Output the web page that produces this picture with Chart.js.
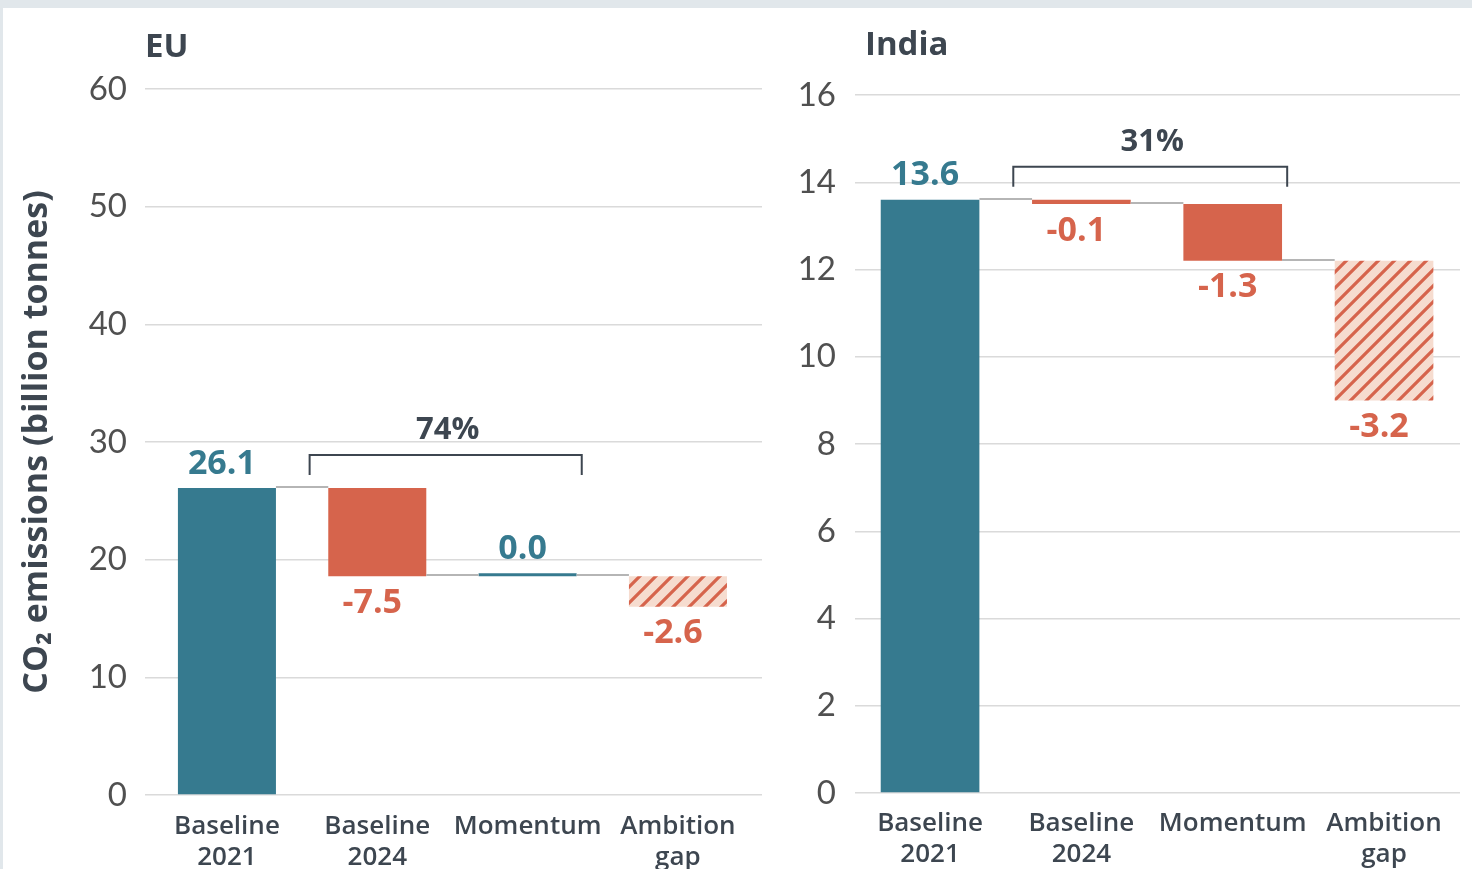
<!DOCTYPE html>
<html>
<head>
<meta charset="utf-8">
<script src="https://cdn.jsdelivr.net/npm/chart.js@4"></script>
<style>
  html, body { margin: 0; padding: 0; background: #fff; }
  body { width: 1472px; height: 869px; position: relative; overflow: hidden; }
  .strip-top  { position: absolute; left: 0; top: 0; width: 1472px; height: 8px; background: #e1e7eb; }
  .strip-left { position: absolute; left: 0; top: 0; width: 3px; height: 869px; background: #e1e7eb; }
  #eu    { position: absolute; left: 0; top: 0; }
  #india { position: absolute; left: 775px; top: 0; }
</style>
</head>
<body>
<canvas id="eu" width="775" height="869"></canvas>
<canvas id="india" width="697" height="869"></canvas>
<div class="strip-top"></div>
<div class="strip-left"></div>
<script>
// ── Data ──
const categories   = [['Baseline', '2021'], ['Baseline', '2024'], 'Momentum', ['Ambition', 'gap']]
const euChanges    = [26.1, -7.5, 0.0, -2.6]
const indiaChanges = [13.6, -0.1, -1.3, -3.2]
const euTicks      = [0, 10, 20, 30, 40, 50, 60]
const indiaTicks   = [0, 2, 4, 6, 8, 10, 12, 14, 16]
const euShare      = '74%'
const indiaShare   = '31%'

// ── Styles ──
const TEAL  = '#367a8f'
const RED   = '#d6644c'
const PEACH = '#f6dccf'
const INK   = '#3d4650'
const GRID  = '#dadada'
const LINK  = '#b5b5b5'

function hatch() {
  const c = document.createElement('canvas')
  c.width = 16; c.height = 16
  const g = c.getContext('2d')
  g.fillStyle = PEACH
  g.fillRect(0, 0, 16, 16)
  g.strokeStyle = RED
  g.lineWidth = 3.2
  g.beginPath()
  g.moveTo(-4, 20); g.lineTo(20, -4)
  g.moveTo(-4, 4);  g.lineTo(4, -4)
  g.moveTo(12, 20); g.lineTo(20, 12)
  g.stroke()
  return g.createPattern(c, 'repeat')
}

// floating [start, end] pairs for the waterfall
function steps(changes) {
  let level = 0
  return changes.map((v, i) => {
    const start = i === 0 ? 0 : level
    level = start + v
    return [start, level]
  })
}

function extras(changes, title, titleX, titleY, share) {
  return {
    id: 'extras',
    afterDatasetsDraw(chart) {
      const { ctx, chartArea, scales: { x, y } } = chart
      const bars = chart.getDatasetMeta(0).data
      const levels = steps(changes)
      ctx.save()

      // connectors
      ctx.strokeStyle = LINK
      ctx.lineWidth = 2
      for (let i = 0; i < bars.length - 1; i++) {
        const py = Math.round(y.getPixelForValue(levels[i][1])) - 1
        ctx.beginPath()
        ctx.moveTo(bars[i].x + bars[i].width / 2, py)
        ctx.lineTo(bars[i + 1].x - bars[i + 1].width / 2, py)
        ctx.stroke()
      }

      // value labels
      ctx.font = '700 34px "Open Sans"'
      ctx.textAlign = 'center'
      ctx.textBaseline = 'middle'
      bars.forEach((bar, i) => {
        const v = changes[i]
        const top = Math.min(bar.y, bar.base)
        const bottom = Math.max(bar.y, bar.base)
        ctx.fillStyle = v < 0 ? RED : TEAL
        ctx.fillText(v.toFixed(1), bar.x - 5, v < 0 ? bottom + 27 : top - 24)
      })

      // bracket + share
      const cw = x.getPixelForValue(1) - x.getPixelForValue(0)
      const bl = x.getPixelForValue(1) - 0.45 * cw
      const br = x.getPixelForValue(2) + 0.36 * cw
      const bt = Math.min(bars[0].y, bars[0].base) - 33
      ctx.strokeStyle = INK
      ctx.lineWidth = 2
      ctx.beginPath()
      ctx.moveTo(bl, bt + 20)
      ctx.lineTo(bl, bt)
      ctx.lineTo(br, bt)
      ctx.lineTo(br, bt + 20)
      ctx.stroke()
      ctx.fillStyle = INK
      ctx.font = '700 31px "Open Sans"'
      ctx.fillText(share, (bl + br) / 2 + 2, bt - 25)

      // panel title
      ctx.font = '700 33px "Open Sans"'
      ctx.textAlign = 'left'
      ctx.fillText(title, chartArea.left + titleX, titleY)
      ctx.restore()
    }
  }
}

function makeChart(id, changes, ticks, opts) {
  const n = changes.length
  return new Chart(document.getElementById(id), {
    type: 'bar',
    data: {
      datasets: [{
        data: steps(changes).map((v, i) => ({ x: i, y: v })),
        backgroundColor: changes.map((v, i) => i === n - 1 ? hatch() : v < 0 ? RED : TEAL),
        borderWidth: 0,
        barPercentage: 0.652,
        categoryPercentage: 1,
        minBarLength: 3,
      }]
    },
    options: {
      responsive: false,
      animation: false,
      layout: { padding: { top: opts.top, right: opts.right, left: 0, bottom: 0 } },
      plugins: { legend: { display: false }, tooltip: { enabled: false }, title: { display: false } },
      scales: {
        x: {
          type: 'linear',
          offset: false,
          min: opts.xMin,
          max: opts.xMax,
          afterBuildTicks: s => { s.ticks = categories.map((c, i) => ({ value: i })) },
          grid: { display: false, offset: false },
          border: { display: false },
          ticks: {
            callback: v => categories[v],
            color: INK,
            font: { family: '"Open Sans"', size: 26, weight: '600' },
            padding: opts.xPad,
            maxRotation: 0,
            autoSkip: false,
          },
          afterFit: s => { s.height = opts.xHeight },
        },
        y: {
          min: ticks[0],
          max: ticks[ticks.length - 1],
          afterBuildTicks: s => { s.ticks = ticks.map(v => ({ value: v })) },
          grid: { color: GRID, lineWidth: 1.5, drawTicks: false },
          border: { display: false },
          ticks: {
            color: '#505050',
            font: { family: 'Lato', size: 33, weight: '400' },
            padding: opts.yPad,
          },
          title: {
            display: !!opts.yTitle,
            text: opts.yTitle || '',
            color: INK,
            font: { family: '"Open Sans"', size: 34, weight: '700' },
            padding: { top: 17, bottom: 0 },
          },
          afterFit: s => { s.width = opts.yWidth },
        }
      }
    },
    plugins: [extras(changes, opts.title, opts.titleX, opts.titleY, opts.share)]
  })
}

makeChart('eu', euChanges, euTicks, {
  title: 'EU', titleX: 0, titleY: 48, share: euShare,
  yTitle: 'CO₂ emissions (billion tonnes)',
  xMin: -0.545, xMax: 3.559,
  top: 89, right: 13, xHeight: 74, xPad: 8, yWidth: 145, yPad: 18,
})

makeChart('india', indiaChanges, indiaTicks, {
  title: 'India', titleX: 10, titleY: 46, share: indiaShare,
  xMin: -0.496, xMax: 3.502,
  top: 95, right: 12, xHeight: 76, xPad: 7, yWidth: 80, yPad: 19,
})
</script>
</body>
</html>
